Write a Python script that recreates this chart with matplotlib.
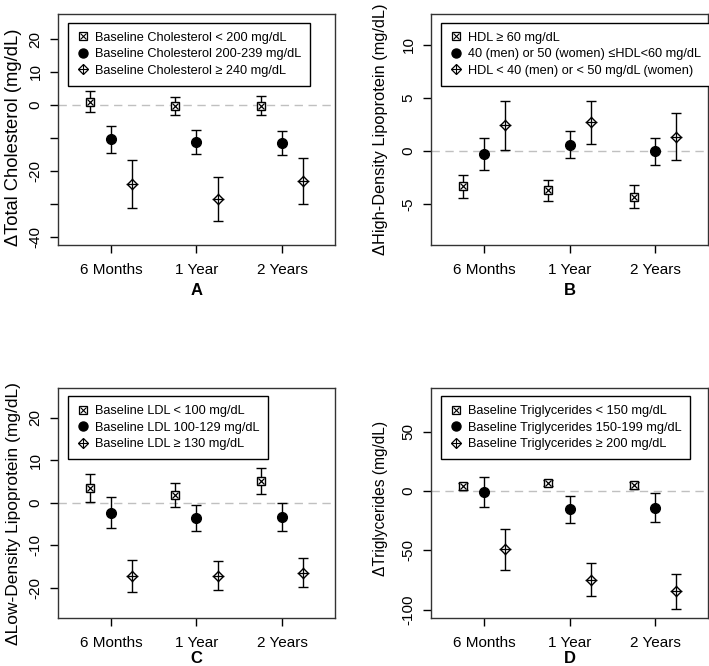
import matplotlib
matplotlib.use("Agg")
import matplotlib.pyplot as plt
from matplotlib.lines import Line2D
from matplotlib.legend_handler import HandlerTuple

plt.rcParams['font.family'] = ['Liberation Sans', 'DejaVu Sans']

times = ["6 Months", "1 Year", "2 Years"]

# Panel A: total cholesterol
a_low = [1.0, -0.3, -0.2]
a_low_err = [3.2, 2.8, 2.8]
a_mid = [-10.5, -11.2, -11.6]
a_mid_err = [4.0, 3.7, 3.7]
a_high = [-24.1, -28.5, -23.0]
a_high_err = [7.3, 6.7, 7.0]
a_labels = ["Baseline Cholesterol < 200 mg/dL",
            "Baseline Cholesterol 200-239 mg/dL",
            "Baseline Cholesterol \u2265 240 mg/dL"]

# Panel B: HDL
b_low = [-3.35, -3.7, -4.3]
b_low_err = [1.1, 1.0, 1.05]
b_mid = [-0.25, 0.6, -0.05]
b_mid_err = [1.5, 1.25, 1.3]
b_high = [2.4, 2.7, 1.33]
b_high_err = [2.35, 2.05, 2.2]
b_labels = ["HDL \u2265 60 mg/dL",
            "40 (men) or 50 (women) \u2264HDL<60 mg/dL",
            "HDL < 40 (men) or < 50 mg/dL (women)"]

# Panel C: LDL
c_low = [3.4, 1.75, 5.05]
c_low_err = [3.25, 2.8, 3.0]
c_mid = [-2.3, -3.55, -3.4]
c_mid_err = [3.65, 3.05, 3.25]
c_high = [-17.2, -17.1, -16.4]
c_high_err = [3.7, 3.4, 3.5]
c_labels = ["Baseline LDL < 100 mg/dL",
            "Baseline LDL 100-129 mg/dL",
            "Baseline LDL \u2265 130 mg/dL"]

# Panel D: triglycerides
d_low = [4.0, 6.5, 4.8]
d_low_err = [3.0, 2.5, 3.0]
d_mid = [-1.0, -15.6, -14.2]
d_mid_err = [12.9, 11.7, 12.2]
d_high = [-49.3, -74.7, -84.6]
d_high_err = [17.0, 13.8, 14.9]
d_labels = ["Baseline Triglycerides < 150 mg/dL",
            "Baseline Triglycerides 150-199 mg/dL",
            "Baseline Triglycerides \u2265 200 mg/dL"]

panels = [
    ("A", "\u0394Total Cholesterol (mg/dL)", (a_low, a_low_err, a_mid, a_mid_err, a_high, a_high_err),
     a_labels, (-42.6, 27.6), [-40, -30, -20, -10, 0, 10, 20], ["-40", "", "-20", "", "0", "10", "20"]),
    ("B", "\u0394High-Density Lipoprotein (mg/dL)", (b_low, b_low_err, b_mid, b_mid_err, b_high, b_high_err),
     b_labels, (-8.87, 12.9), [-5, 0, 5, 10], ["-5", "0", "5", "10"]),
    ("C", "\u0394Low-Density Lipoprotein (mg/dL)", (c_low, c_low_err, c_mid, c_mid_err, c_high, c_high_err),
     c_labels, (-27, 27), [-20, -10, 0, 10, 20], ["-20", "-10", "0", "10", "20"]),
    ("D", "\u0394Triglycerides (mg/dL)", (d_low, d_low_err, d_mid, d_mid_err, d_high, d_high_err),
     d_labels, (-106.8, 87), [-100, -50, 0, 50], ["-100", "-50", "0", "50"]),
]

positions = [
    [0.0818, 0.632, 0.3907, 0.347],
    [0.6079, 0.632, 0.3907, 0.347],
    [0.0818, 0.0725, 0.3907, 0.3453],
    [0.6079, 0.0725, 0.3907, 0.3453],
]
# y-label size and placement per panel (as in the source figure)
ylab_size = [13.2, 11.8, 12.5, 11.2]
ylab_xy = [(-0.13, 0.465), (-0.155, 0.5), (-0.134, 0.453), (-0.155, 0.52)]
letter_pad = [4, 4, 1, 1]

fig = plt.figure(figsize=(7.09, 6.66), dpi=100)
offsets = [-0.25, 0.0, 0.25]
base_x = [1, 2, 3]

for i, ((letter, ylab, vals, labels, ylim, yt, ytl), pos) in enumerate(zip(panels, positions)):
    ax = fig.add_axes(pos)
    low, low_err, mid, mid_err, high, high_err = vals
    ax.axhline(0, color="#c0c0c0", ls=(0, (6, 4)), lw=1, zorder=1)

    xs = [[b + o for b in base_x] for o in offsets]
    for x, y, e in zip(xs, [low, mid, high], [low_err, mid_err, high_err]):
        ax.errorbar(x, y, yerr=e, fmt="none", ecolor="black", elinewidth=1,
                    capsize=3.6, capthick=1, zorder=2)
    ax.plot(xs[0], low, ls="none", marker="s", ms=6, mfc="white", mec="black", mew=1, zorder=3)
    ax.plot(xs[0], low, ls="none", marker="x", ms=5, mec="black", mew=0.9, zorder=4)
    ax.plot(xs[1], mid, ls="none", marker="o", ms=7, mfc="black", mec="black", zorder=3)
    ax.plot(xs[2], high, ls="none", marker="D", ms=5.5, mfc="white", mec="black", mew=1, zorder=3)
    ax.plot(xs[2], high, ls="none", marker="+", ms=8, mec="black", mew=0.9, zorder=4)

    ax.set_xlim(0.38, 3.62)
    ax.set_ylim(*ylim)
    ax.set_xticks(base_x)
    ax.set_xticklabels(times, fontsize=11)
    ax.set_yticks(yt)
    ax.set_yticklabels(ytl, fontsize=11, rotation=90, va="center")
    ax.tick_params(length=6, width=1, color="black")
    ax.tick_params(axis="x", pad=7)
    ax.tick_params(axis="y", pad=5)
    for s in ax.spines.values():
        s.set_linewidth(1)
        s.set_color("#333333")

    ax.set_xlabel(letter, fontsize=12, fontweight="bold", labelpad=letter_pad[i])
    ax.set_ylabel(ylab, fontsize=ylab_size[i])
    ax.yaxis.set_label_coords(*ylab_xy[i])

    h_sq = (Line2D([], [], ls="none", marker="s", ms=5.5, mfc="white", mec="black", mew=0.9),
            Line2D([], [], ls="none", marker="x", ms=4.5, mec="black", mew=0.8))
    h_ci = Line2D([], [], ls="none", marker="o", ms=6.5, mfc="black", mec="black")
    h_di = (Line2D([], [], ls="none", marker="D", ms=5, mfc="white", mec="black", mew=0.9),
            Line2D([], [], ls="none", marker="+", ms=7, mec="black", mew=0.8))
    leg = ax.legend([h_sq, h_ci, h_di], labels, loc="upper left",
                    bbox_to_anchor=(0.036, 0.962), borderaxespad=0,
                    fontsize=9.2, handlelength=1.0, handletextpad=0.4,
                    labelspacing=0.35, borderpad=0.7, fancybox=False,
                    framealpha=1, edgecolor="black",
                    handler_map={tuple: HandlerTuple(ndivide=1)})
    leg.get_frame().set_linewidth(1)

fig.savefig("out.png", dpi=100)
